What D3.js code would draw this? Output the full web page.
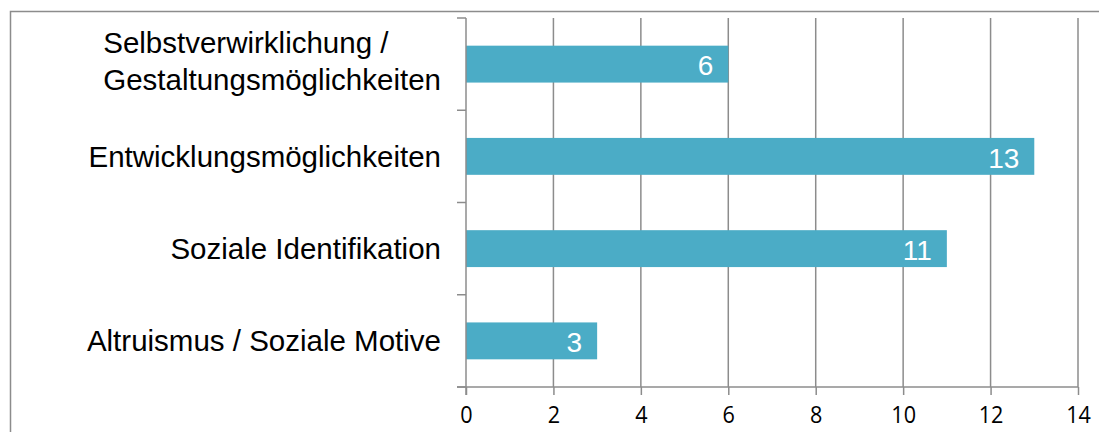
<!DOCTYPE html>
<html>
<head>
<meta charset="utf-8">
<script src="https://cdn.jsdelivr.net/npm/d3@7"></script>
<style>
  html, body { margin: 0; padding: 0; background: #fff; }
  svg { display: block; }
</style>
</head>
<body>
<svg id="chart" width="1099" height="432"></svg>
<script>
// Motive categories, top to bottom
const categories = [
  ["Selbstverwirklichung /", "Gestaltungsmöglichkeiten"],
  ["Entwicklungsmöglichkeiten"],
  ["Soziale Identifikation"],
  ["Altruismus / Soziale Motive"]
];
const values = [6, 13, 11, 3];
const xTicks = [0, 2, 4, 6, 8, 10, 12, 14];

const svg = d3.select("#chart");
const lineColor = "#8c8c8c";
const barColor = "#4bacc6";

// outer frame
svg.append("rect")
  .attr("x", 10.5).attr("y", 11.5)
  .attr("width", 1200).attr("height", 500)
  .attr("fill", "none").attr("stroke", lineColor).attr("stroke-width", 1.5);

const x = d3.scaleLinear().domain([0, 14]).range([466, 1078]);
const y = d3.scaleBand().domain(d3.range(categories.length)).range([18, 387]).padding(0);
const barH = y.bandwidth() * 0.4;

// vertical grid lines
svg.append("g").selectAll("line")
  .data(xTicks.filter(t => t > 0))
  .join("line")
  .attr("x1", d => x(d)).attr("x2", d => x(d))
  .attr("y1", 18).attr("y2", 387)
  .attr("stroke", lineColor).attr("stroke-width", 1.5);

// bars
svg.append("g").selectAll("rect")
  .data(values)
  .join("rect")
  .attr("x", x(0))
  .attr("y", (d, i) => y(i) + (y.bandwidth() - barH) / 2)
  .attr("width", d => x(d) - x(0))
  .attr("height", barH)
  .attr("fill", barColor);

// value labels inside bar ends
svg.append("g").selectAll("text")
  .data(values)
  .join("text")
  .attr("x", d => x(d) - 15)
  .attr("y", (d, i) => y(i) + y.bandwidth() / 2)
  .attr("dy", "0.4em")
  .attr("text-anchor", "end")
  .attr("fill", "#fff")
  .style("font-family", "'Liberation Sans', Arial, sans-serif")
  .style("font-size", "28px")
  .text(d => d);

// x axis
const xAxis = d3.axisBottom(x).tickValues(xTicks).tickSize(8).tickPadding(11).tickFormat(d3.format("d"));
const gx = svg.append("g").attr("transform", "translate(0,387)").call(xAxis);
gx.select(".domain").attr("d", `M${x(0) - 9},0H${x(14)}`);
gx.selectAll("line, path").attr("stroke", lineColor).attr("stroke-width", 1.5);
gx.selectAll("text")
  .attr("fill", "#000")
  .attr("transform", "scale(0.9,1)")
  .style("font-family", "'Open Sans', sans-serif")
  .style("font-size", "24px");

// y axis with ticks at band boundaries
const gy = svg.append("g");
gy.append("line")
  .attr("x1", x(0)).attr("x2", x(0))
  .attr("y1", 18).attr("y2", 395)
  .attr("stroke", lineColor).attr("stroke-width", 1.5);
gy.selectAll("line.tick")
  .data(d3.range(categories.length + 1))
  .join("line")
  .attr("class", "tick")
  .attr("x1", x(0) - 9).attr("x2", x(0))
  .attr("y1", i => 18 + i * y.step()).attr("y2", i => 18 + i * y.step())
  .attr("stroke", lineColor).attr("stroke-width", 1.5);

// category labels: block right-aligned, lines left-aligned within block
const lineH = 37;
const labels = svg.append("g")
  .style("font-family", "'Liberation Sans', Arial, sans-serif")
  .style("font-size", "29.5px")
  .attr("fill", "#000");
categories.forEach((lines, i) => {
  const cy = y(i) + y.bandwidth() / 2;
  const t = labels.append("text");
  lines.forEach((s, j) => {
    t.append("tspan")
      .attr("y", cy + (j - (lines.length - 1) / 2) * lineH)
      .attr("dy", lines.length > 1 ? "0.26em" : "0.36em")
      .text(s);
  });
  // measure widest line, then place all lines at a common left edge
  const w = d3.max(t.selectAll("tspan").nodes(), n => n.getComputedTextLength());
  t.selectAll("tspan").attr("x", 441 - w);
});
</script>
</body>
</html>
